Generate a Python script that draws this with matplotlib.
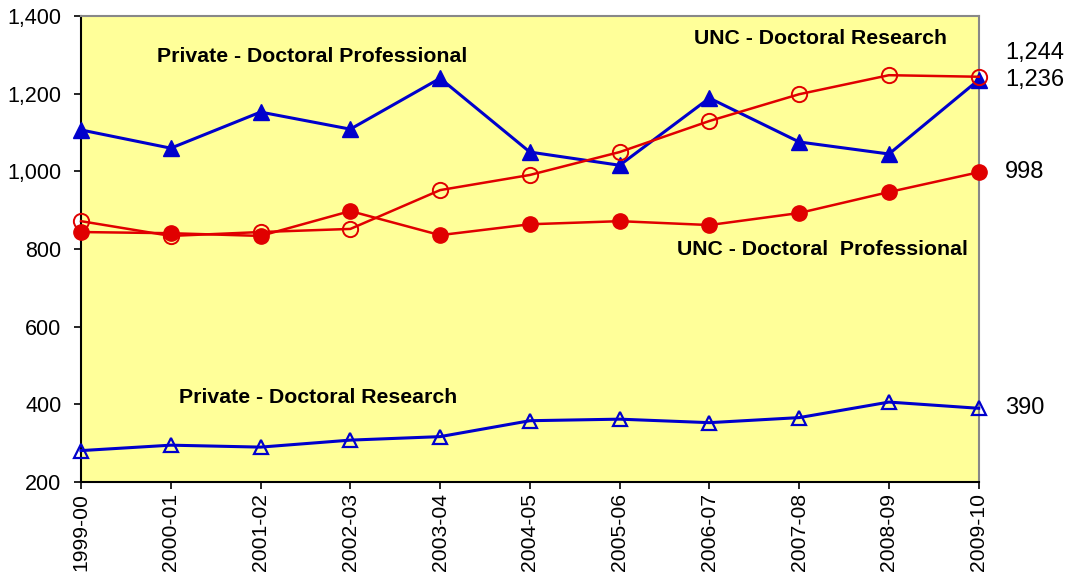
import matplotlib.pyplot as plt

plt.rcParams['font.family'] = ['Liberation Sans', 'DejaVu Sans']

years = ["1999-00", "2000-01", "2001-02", "2002-03", "2003-04", "2004-05",
         "2005-06", "2006-07", "2007-08", "2008-09", "2009-10"]
private_prof = [1107, 1060, 1153, 1109, 1240, 1050, 1016, 1189, 1076, 1045, 1236]
unc_research = [872, 834, 844, 852, 952, 991, 1050, 1130, 1199, 1248, 1244]
unc_prof = [844, 841, 834, 898, 836, 864, 872, 862, 893, 947, 998]
private_research = [281, 295, 290, 308, 317, 358, 362, 353, 366, 406, 390]

end_labels = ["1,244", "1,236", "998", "390"]
end_label_y = [1305, 1236, 998, 390]

blue = "#0000CC"
red = "#E00000"

fig = plt.figure(figsize=(10.7, 5.78), dpi=100)
ax = fig.add_axes([0.0757, 0.166, 0.839, 0.806])
ax.set_facecolor("#FFFF99")

x = list(range(len(years)))
ax.plot(x, private_prof, color=blue, lw=2.2, marker="^", ms=11, mfc=blue, mec=blue, clip_on=False, zorder=3)
ax.plot(x, private_research, color=blue, lw=2.2, marker="^", ms=10, mfc="none", mec=blue, mew=1.6, clip_on=False, zorder=3)
ax.plot(x, unc_research, color=red, lw=1.8, marker="o", ms=11, mfc="none", mec=red, mew=1.4, clip_on=False, zorder=3)
ax.plot(x, unc_prof, color=red, lw=1.8, marker="o", ms=11, mfc=red, mec=red, clip_on=False, zorder=3)

ax.set_xlim(0, 10)
ax.set_ylim(200, 1400)
ax.set_yticks(range(200, 1401, 200))
ax.set_yticklabels(["{:,}".format(v) for v in range(200, 1401, 200)], fontsize=15.5)
ax.set_xticks(x)
ax.set_xticklabels(years, rotation=90, fontsize=15.2)
ax.tick_params(direction="out", length=5, width=1.2, color="black")
ax.tick_params(axis="y", pad=9)
ax.tick_params(axis="x", pad=3)

for side in ["left", "bottom"]:
    ax.spines[side].set_color("black")
    ax.spines[side].set_linewidth(1.5)
for side in ["top", "right"]:
    ax.spines[side].set_color("#888888")
    ax.spines[side].set_linewidth(1.5)

ax.text(2.575, 1297, "Private - Doctoral Professional", fontsize=15.3, fontweight="bold", ha="center", va="center")
ax.text(8.24, 1343, "UNC - Doctoral Research", fontsize=15.3, fontweight="bold", ha="center", va="center")
ax.text(8.26, 800, "UNC - Doctoral  Professional", fontsize=15.3, fontweight="bold", ha="center", va="center")
ax.text(2.64, 419, "Private - Doctoral Research", fontsize=15.3, fontweight="bold", ha="center", va="center")

for lab, yv in zip(end_labels, end_label_y):
    ax.text(10.29, yv, lab, fontsize=17, ha="left", va="center", clip_on=False)

fig.savefig("out.png", dpi=100)
